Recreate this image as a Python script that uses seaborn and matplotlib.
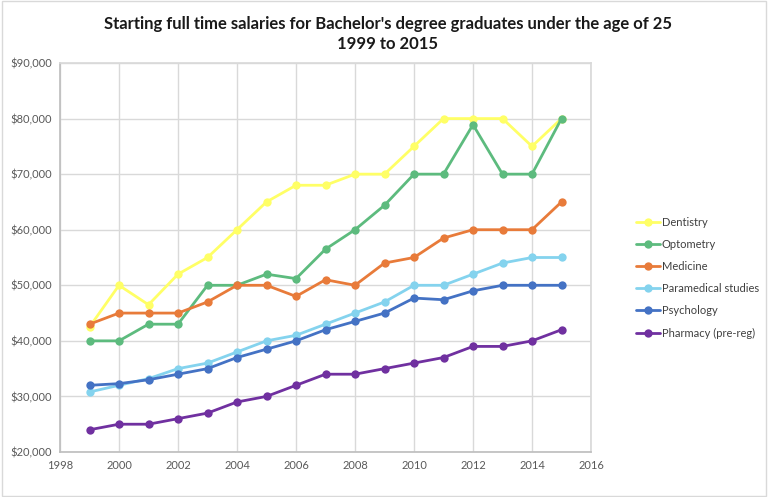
import pandas as pd
import numpy as np
import seaborn as sns
import matplotlib.pyplot as plt
from matplotlib.patches import Rectangle
from matplotlib.ticker import FuncFormatter, MultipleLocator

# Datos
years = list(range(1999, 2016))
subjects = ["Dentistry", "Optometry", "Medicine", "Paramedical studies",
            "Psychology", "Pharmacy (pre-reg)"]
dentistry = [42500, 50000, 46500, 52000, 55000, 60000, 65000, 68000, 68000,
             70000, 70000, 75000, 80000, 80000, 80000, 75000, 80000]
optometry = [40000, 40000, 43000, 43000, 50000, 50000, 52000, 51200, 56500,
             60000, 64400, 70000, 70000, 78900, 70000, 70000, 80000]
medicine = [43000, 45000, 45000, 45000, 47000, 50000, 50000, 48000, 51000,
            50000, 54000, 55000, 58500, 60000, 60000, 60000, 65000]
paramedical = [30800, 32000, 33200, 35000, 36000, 38000, 40000, 41000, 43000,
               45000, 47000, 50000, 50000, 52000, 54000, 55000, 55000]
psychology = [32000, 32300, 33000, 34000, 35000, 37000, 38500, 40000, 42000,
              43500, 45000, 47700, 47400, 49000, 50000, 50000, 50000]
pharmacy = [24000, 25000, 25000, 26000, 27000, 29000, 30000, 32000, 34000,
            34000, 35000, 36000, 37000, 39000, 39000, 40000, 42000]
colores = ["#FFFF66", "#5DBB7E", "#E87B3A", "#84D3EE", "#4472C4", "#7030A0"]

series = [dentistry, optometry, medicine, paramedical, psychology, pharmacy]
df = pd.DataFrame([
    {"year": y, "salary": v, "subject": s}
    for s, vals in zip(subjects, series) for y, v in zip(years, vals)
])

sns.set_theme(style="white")
plt.rcParams['font.family'] = ['Lato', 'DejaVu Sans']

fig = plt.figure(figsize=(7.68, 4.97), dpi=100)
ax = fig.add_axes([60 / 768, 1 - 452 / 497, 531 / 768, 389 / 497])

sns.lineplot(data=df, x="year", y="salary", hue="subject", hue_order=subjects,
             palette=colores, marker="o", markersize=6, markeredgewidth=0,
             linewidth=2, ax=ax)

ax.set_xlim(1998, 2016)
ax.set_ylim(20000, 90000)
ax.xaxis.set_major_locator(MultipleLocator(2))
ax.yaxis.set_major_locator(MultipleLocator(10000))
ax.yaxis.set_major_formatter(FuncFormatter(lambda v, p: f"${v:,.0f}"))
ax.grid(True, color="#D9D9D9", linewidth=1)
ax.set_axisbelow(True)
ax.tick_params(axis="both", labelsize=8, colors="#595959", length=0, pad=6)
ax.set_xlabel("")
ax.set_ylabel("")
for lado in ["top", "right"]:
    ax.spines[lado].set_color("#D9D9D9")
for lado in ["left", "bottom"]:
    ax.spines[lado].set_color("#BFBFBF")

handles, labels = ax.get_legend_handles_labels()
ax.legend(handles, labels, loc="center left", bbox_to_anchor=(1.065, 0.448),
          frameon=False, fontsize=8, labelcolor="#404040", handlelength=2.2,
          handletextpad=0.15, labelspacing=1.0)

fig.text(0.505, 0.952, "Starting full time salaries for Bachelor's degree graduates under the age of 25",
         ha="center", va="center", fontsize=12, fontweight="bold", color="#1a1a1a")
fig.text(0.505, 0.911, "1999 to 2015", ha="center", va="center",
         fontsize=12, fontweight="bold", color="#1a1a1a")

fig.patches.append(Rectangle((0.002, 0.003), 0.996, 0.994, transform=fig.transFigure,
                             fill=False, edgecolor="#D9D9D9", linewidth=1))

fig.savefig("out.png", dpi=100)
